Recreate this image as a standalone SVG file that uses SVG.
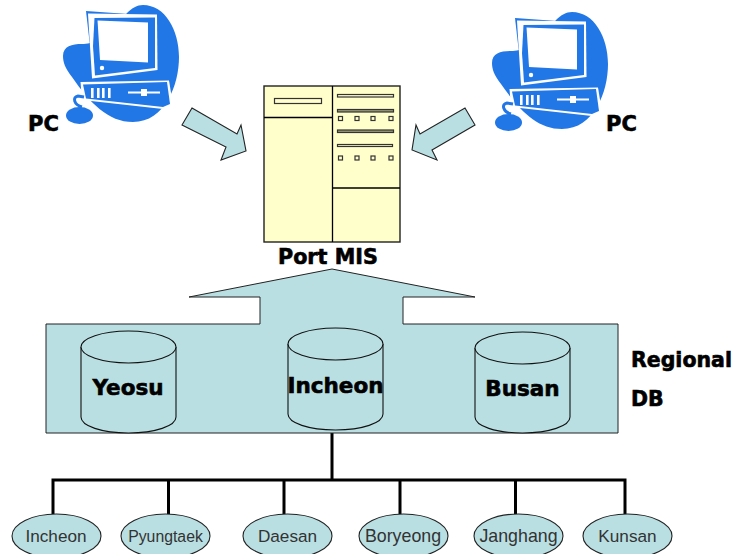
<svg xmlns="http://www.w3.org/2000/svg" width="734" height="554" viewBox="0 0 734 554">
<style>
text{font-family:"DejaVu Sans","Liberation Sans",sans-serif;font-weight:700;fill:#000;stroke:#000;stroke-width:.6}
.lab{font-size:21px}
.db{font-size:21.5px;text-anchor:middle}
.teal{fill:#b9dfe3;stroke:#222;stroke-width:1.1}
.srv{fill:#ffffcc;stroke:#222;stroke-width:1.4}
.slot{fill:#ffffcc;stroke:#333;stroke-width:1.2}
.cyl{fill:#b9dfe3;stroke:#111;stroke-width:1.1}
.port{fill:#b9dfe3;stroke:#222;stroke-width:1}
text.pl{font-family:"Liberation Sans",Arial,sans-serif;font-weight:400;font-size:17.2px;fill:#333;stroke:none;text-anchor:middle}
.b{fill:#2277e6}.w{fill:#fff}
.tree{fill:none;stroke:#000;stroke-width:3}
</style>
<defs>
<g id="pcicon">
<path class="b" d="M143 5C165 5 179 30 179 57C179 85 165 122 133 122C108 122 90 103 72 77C65 68 63 62 63 56C63 46 72 44 82 44C92 44 105 40 127 13C132 8 137 5 143 5Z"/>
<path class="b" d="M86 11L128 14L90 46Z"/>
<path class="w" d="M88 13.500L157 14.500L157.500 70L92 78.500L90 46Z"/>
<path class="b" d="M94.500 18L155 17.500L155 68L95 75.500L93 46Z"/>
<path class="w" d="M97.500 20.500L148 22.500L148 62.500L100 60Z"/>
<circle class="w" cx="102" cy="68" r="2.200"/>
<path class="w" d="M80.500 82L169 80.500L173 105L163 109L82 100Z"/>
<path class="b" d="M83 84.500L167 82L170 104L163 107L86 98.500Z"/>
<path class="w" d="M91 88h2.600v10h-2.600zM97 88h2.600v10h-2.600zM102 88h2.600v10h-2.600zM108 88h2.600v10h-2.600z"/>
<path class="w" d="M128 91.500h32v2h-32zM141 89h6v7h-6z"/>
<ellipse class="b" cx="79.500" cy="115.500" rx="13.500" ry="8.500"/>
<path d="M82 107C74 105 72 97 78 96L84 97" fill="none" stroke="#2277e6" stroke-width="3"/>
</g>
</defs>
<g id="connectors">
<path class="tree" d="M332 433V480M53 514V480H625V514M168.500 480V514M284 480V514M400 480V514M515.500 480V514"/>
</g>
<g id="pc-left"><use href="#pcicon"/><text class="lab" x="28" y="131">PC</text></g>
<g id="pc-right"><use href="#pcicon" x="429" y="7"/><text class="lab" x="606" y="131">PC</text></g>
<g id="arrow-left"><path class="teal" d="M192 108L237 134L241 125L246 151L221 160L226 147L182 125Z"/></g>
<g id="arrow-right"><path class="teal" d="M465 108L475 125L432 150L437 160L412 150L416 125L420 134Z"/></g>
<g id="port-mis">
<rect class="srv" x="264" y="86" width="136" height="156"/>
<path d="M332.500 86V242M264 117.500H332.500M332.500 188H400" fill="none" stroke="#000" stroke-width="1.300"/>
<rect class="slot" x="274.500" y="98.500" width="47" height="5"/>
<g class="slot">
<rect x="337.500" y="94.500" width="56" height="2.500"/>
<rect x="337.500" y="109.500" width="56" height="2.500" fill="#999977"/>
<rect x="337.500" y="130" width="56" height="2.500" fill="#999977"/>
<rect x="337.500" y="144.500" width="55" height="2"/>
<rect x="338.500" y="116.500" width="4" height="4"/><rect x="355" y="116.500" width="4" height="4"/><rect x="371" y="116.500" width="4" height="4"/><rect x="389" y="116.500" width="4" height="4"/>
<rect x="338.500" y="156" width="4" height="4"/><rect x="355" y="156" width="4" height="4"/><rect x="371" y="156" width="4" height="4"/><rect x="389" y="156" width="4" height="4"/>
</g>
<text x="278" y="264" font-size="20.700">Port MIS</text>
</g>
<g id="regional-db">
<path class="port" d="M46 324H260V297H189L332 269L475 297H403V324H618V433H46Z"/>
<text class="lab" x="631" y="367" style="font-size:20.500px">Regional</text>
<text class="lab" x="631" y="406" style="font-size:20.500px">DB</text>
</g>
<g id="db-yeosu">
<path class="cyl" d="M81 347V417C81 426 102 433 128.500 433S176 426 176 417V347"/>
<ellipse class="cyl" cx="128.500" cy="347" rx="47.500" ry="16"/>
<text class="db" x="128" y="395">Yeosu</text>
</g>
<g id="db-incheon">
<path class="cyl" d="M288 344V414C288 423 309 430 335.500 430S383 423 383 414V344"/>
<ellipse class="cyl" cx="335.500" cy="344" rx="47.500" ry="16"/>
<text class="db" x="335.500" y="393">Incheon</text>
</g>
<g id="db-busan">
<path class="cyl" d="M475 348V417C475 426 496 433 522.500 433S570 426 570 417V348"/>
<ellipse class="cyl" cx="522.500" cy="348" rx="47.500" ry="16"/>
<text class="db" x="522.500" y="396">Busan</text>
</g>
<g id="port-incheon"><ellipse class="teal" cx="56.500" cy="536" rx="44.500" ry="22"/><text class="pl" x="56" y="542">Incheon</text></g>
<g id="port-pyungtaek"><ellipse class="teal" cx="165.500" cy="536" rx="44.500" ry="22"/><text class="pl" x="165.500" y="542" style="font-size:15.800px">Pyungtaek</text></g>
<g id="port-daesan"><ellipse class="teal" cx="287.500" cy="536" rx="44.500" ry="22"/><text class="pl" x="287.500" y="542">Daesan</text></g>
<g id="port-boryeong"><ellipse class="teal" cx="403.500" cy="536" rx="44.500" ry="22"/><text class="pl" x="403" y="542" style="font-size:17.800px">Boryeong</text></g>
<g id="port-janghang"><ellipse class="teal" cx="518.500" cy="536" rx="44.500" ry="22"/><text class="pl" x="518.500" y="542" style="font-size:17.800px">Janghang</text></g>
<g id="port-kunsan"><ellipse class="teal" cx="627.500" cy="536" rx="44.500" ry="22"/><text class="pl" x="627.500" y="542">Kunsan</text></g>
</svg>
